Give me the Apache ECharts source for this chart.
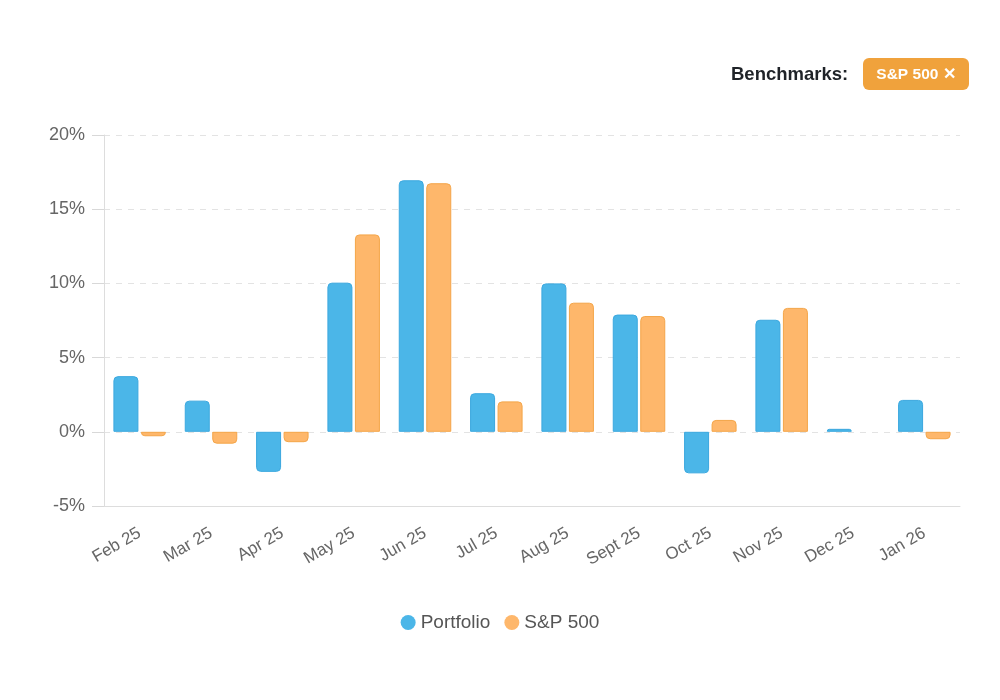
<!DOCTYPE html>
<html>
<head>
<meta charset="utf-8">
<script src="https://cdn.jsdelivr.net/npm/echarts@6/dist/echarts.min.js"></script>
<style>
html,body{margin:0;padding:0;background:#fff;}
#chart{width:1000px;height:700px;}
</style>
</head>
<body>
<div id="chart"></div>
<script>
var months = ['Feb 25','Mar 25','Apr 25','May 25','Jun 25','Jul 25','Aug 25','Sept 25','Oct 25','Nov 25','Dec 25','Jan 26'];
var portfolio = [3.75, 2.1, -2.7, 10.05, 16.95, 2.6, 10.0, 7.9, -2.8, 7.55, 0.2, 2.15];
var sp500 = [-0.3, -0.8, -0.7, 13.3, 16.75, 2.05, 8.7, 7.8, 0.8, 8.35, 0.0, -0.5];
var seriesNames = ['Portfolio', 'S&P 500'];

function toItems(arr) {
  return arr.map(function (v) {
    var st = { borderRadius: v < 0 ? [0, 0, 4, 4] : [4, 4, 0, 0] };
    if (v === 0) { st.borderWidth = 0; }
    return { value: v, itemStyle: st };
  });
}

var chart = echarts.init(document.getElementById('chart'));
var font = 'Helvetica, Arial, "Liberation Sans", sans-serif';
chart.setOption({
  animation: false,
  textStyle: { fontFamily: font },
  grid: { left: 104, right: 40, top: 135, bottom: 194 },
  legend: {
    bottom: 63,
    left: 'center',
    icon: 'circle',
    itemWidth: 15,
    itemHeight: 15,
    itemGap: 14,
    itemStyle: { borderWidth: 0 },
    textStyle: { fontSize: 19, color: '#555', fontFamily: font, padding: [2, 0, 0, 0] },
    data: seriesNames
  },
  xAxis: {
    type: 'category',
    data: months,
    axisLine: { show: true, onZero: false, lineStyle: { color: '#ddd' } },
    axisTick: { show: false },
    axisLabel: { rotate: 30, fontSize: 17, color: '#666', margin: 26, interval: 0 }
  },
  yAxis: {
    type: 'value',
    min: -5,
    max: 20,
    interval: 5,
    axisLine: { show: true, lineStyle: { color: '#ddd' } },
    axisTick: { show: true, inside: false, length: 12, lineStyle: { color: '#d8d8d8', width: 1 } },
    axisLabel: { formatter: '{value}%', fontSize: 18, color: '#666', margin: 19 },
    splitLine: { show: true, lineStyle: { color: '#e3e3e3', type: [6, 6] } }
  },
  series: [
    {
      name: seriesNames[0],
      type: 'bar',
      data: toItems(portfolio),
      barWidth: 25,
      barGap: '10%',
      itemStyle: { color: '#4bb6e8', borderColor: '#3ba8df', borderWidth: 1 }
    },
    {
      name: seriesNames[1],
      type: 'bar',
      data: toItems(sp500),
      barWidth: 25,
      itemStyle: { color: '#feb76b', borderColor: '#f4a548', borderWidth: 1 }
    }
  ],
  graphic: [
    {
      type: 'text',
      left: 731,
      top: 65,
      style: { text: 'Benchmarks:', font: 'bold 18.5px ' + font, fill: '#1f2328' }
    },
    {
      type: 'group',
      left: 863,
      top: 58,
      children: [
        { type: 'rect', shape: { x: 0, y: 0, width: 106, height: 32, r: 6 }, style: { fill: '#f0a23c' } },
        { type: 'text', style: { text: 'S&P 500 \u2715', x: 53, y: 17, align: 'center', verticalAlign: 'middle', font: 'bold 15.5px ' + font, fill: '#fff' } }
      ]
    }
  ]
});
</script>
</body>
</html>
